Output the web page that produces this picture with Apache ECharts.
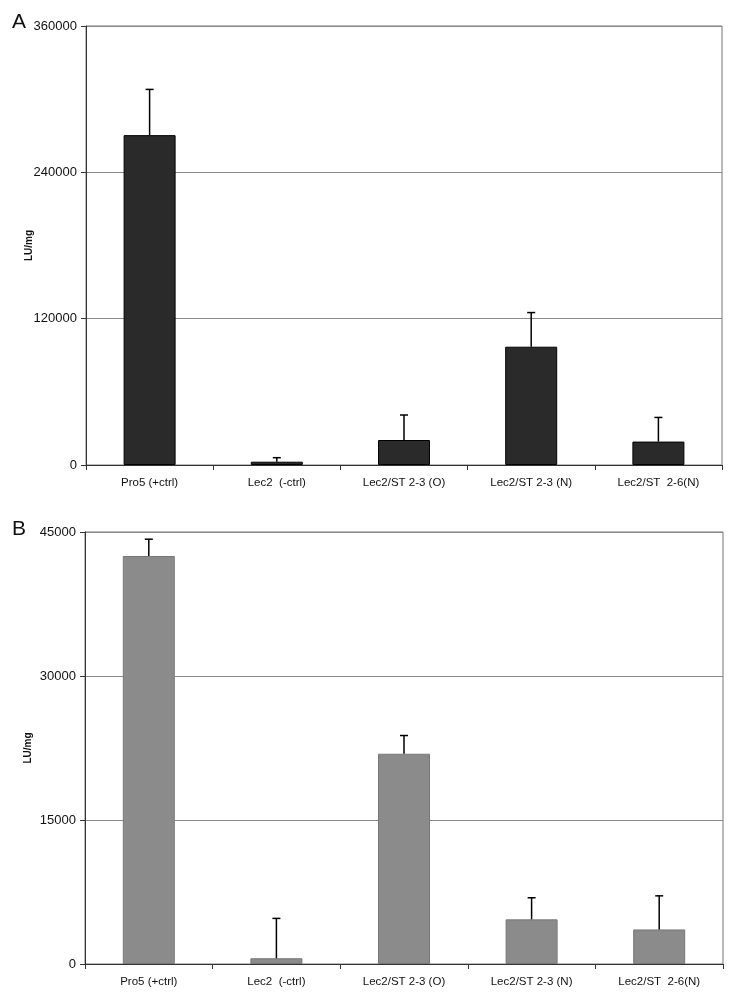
<!DOCTYPE html>
<html>
<head>
<meta charset="utf-8">
<script src="https://cdn.jsdelivr.net/npm/echarts@6/dist/echarts.min.js"></script>
<style>
html,body{margin:0;padding:0;background:#fff;}
#chart{width:729px;height:998px;}
</style>
</head>
<body>
<div id="chart"></div>
<script>
const categories = ['Pro5 (+ctrl)', 'Lec2  (-ctrl)', 'Lec2/ST 2-3 (O)', 'Lec2/ST 2-3 (N)', 'Lec2/ST  2-6(N)'];
const valuesA = [270500, 2700, 20500, 97000, 19200];
const errorTopA = [308000, 6000, 41000, 125000, 39000];
const valuesB = [42500, 600, 21900, 4650, 3600];
const errorTopB = [44250, 4750, 23800, 6900, 7100];
const ticksA = [0, 120000, 240000, 360000];
const ticksB = [0, 15000, 30000, 45000];

const chart = echarts.init(document.getElementById('chart'));
const font = 'Liberation Sans, Arial, Helvetica, sans-serif';

function errRender(params, api) {
  const x = api.value(0);
  const top = api.coord([x, api.value(2)]);
  const base = api.coord([x, api.value(1)]);
  const style = {stroke: '#000', lineWidth: 1.5};
  return {
    type: 'group',
    children: [
      {type: 'line', shape: {x1: base[0], y1: base[1], x2: top[0], y2: top[1]}, style: style},
      {type: 'line', shape: {x1: top[0] - 4, y1: top[1], x2: top[0] + 4, y2: top[1]}, style: style}
    ]
  };
}

function xAxisDef(gi) {
  return {
    type: 'category', gridIndex: gi, data: categories,
    axisLine: {lineStyle: {color: '#333', width: 1}},
    axisTick: {show: true, length: 5, lineStyle: {color: '#333'}},
    axisLabel: {color: '#111', fontSize: 11.5, fontFamily: font, margin: 12, interval: 0},
    splitLine: {show: false}
  };
}
function yAxisDef(gi, ticks, gap) {
  return {
    type: 'value', gridIndex: gi, min: ticks[0], max: ticks[ticks.length - 1],
    interval: ticks[1] - ticks[0],
    name: 'LU/mg', nameLocation: 'middle', nameGap: gap, nameRotate: 90,
    nameMoveOverlap: false,
    nameTextStyle: {fontSize: 10, fontWeight: 'bold', fontFamily: font, color: '#111'},
    axisLine: {show: true, lineStyle: {color: '#333', width: 1}},
    axisTick: {show: true, length: 5, lineStyle: {color: '#333'}},
    axisLabel: {color: '#111', fontSize: 13, fontFamily: font, margin: 9,
                formatter: v => String(v)},
    splitLine: {show: true, lineStyle: {color: '#8a8a8a', width: 1}}
  };
}

chart.setOption({
  backgroundColor: '#fff',
  animation: false,
  title: [
    {text: 'A', left: 7, top: 7, textStyle: {fontSize: 21, fontWeight: 'normal', fontFamily: font, color: '#111'}},
    {text: 'B', left: 7, top: 514, textStyle: {fontSize: 21, fontWeight: 'normal', fontFamily: font, color: '#111'}}
  ],
  grid: [
    {left: 86, right: 7, top: 26, height: 439, show: true, borderColor: '#777', borderWidth: 1},
    {left: 85, right: 6, top: 532, height: 432, show: true, borderColor: '#777', borderWidth: 1}
  ],
  xAxis: [xAxisDef(0), xAxisDef(1)],
  yAxis: [yAxisDef(0, ticksA, 52), yAxisDef(1, ticksB, 52)],
  series: [
    {type: 'bar', xAxisIndex: 0, yAxisIndex: 0, data: valuesA, barWidth: 52,
     itemStyle: {color: '#2a2a2a', borderColor: '#000', borderWidth: 1}},
    {type: 'custom', xAxisIndex: 0, yAxisIndex: 0, renderItem: errRender,
     data: valuesA.map((v, i) => [i, v, errorTopA[i]]), z: 3},
    {type: 'bar', xAxisIndex: 1, yAxisIndex: 1, data: valuesB, barWidth: 52,
     itemStyle: {color: '#8b8b8b', borderColor: '#777', borderWidth: 1}},
    {type: 'custom', xAxisIndex: 1, yAxisIndex: 1, renderItem: errRender,
     data: valuesB.map((v, i) => [i, v, errorTopB[i]]), z: 3}
  ]
});
</script>
</body>
</html>
